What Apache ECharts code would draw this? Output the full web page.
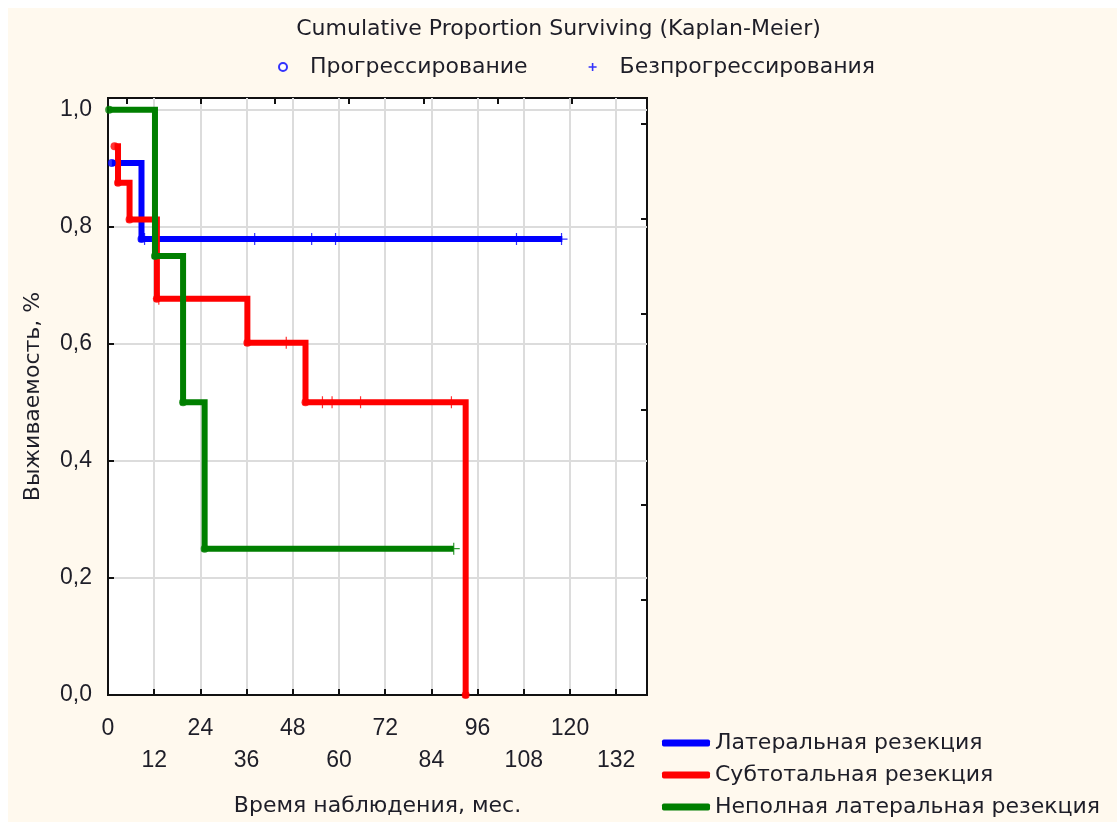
<!DOCTYPE html>
<html>
<head>
<meta charset="utf-8">
<script src="https://cdn.jsdelivr.net/npm/echarts@6/dist/echarts.min.js"></script>
<style>
  html, body { margin: 0; padding: 0; background: #fff; }
  #chart {
    width: 1117px; height: 822px;
    background: linear-gradient(#fff9ee, #fff9ee) 8px 8px / 100% 100% no-repeat, #fff;
  }
</style>
</head>
<body>
<div id="chart"></div>
<script>
// Kaplan-Meier survival curves: time (months) and cumulative proportion surviving
const xTickLabels = [0, 12, 24, 36, 48, 60, 72, 84, 96, 108, 120, 132];
const yTickLabels = [0, 0.2, 0.4, 0.6, 0.8, 1.0];

const groupNames = ['Латеральная резекция', 'Субтотальная резекция', 'Неполная латеральная резекция'];
const groupColors = ['#0000ff', '#ff0000', '#007f00'];

// step points: time of each change and the surviving proportion after it
const lateralTimes = [1.0, 8.7, 118.0];
const lateralSurv = [0.909, 0.779, 0.779];
const subtotalTimes = [1.7, 2.6, 5.6, 12.7, 36.2, 51.3, 92.9, 93.6];
const subtotalSurv = [0.9375, 0.875, 0.8125, 0.677, 0.602, 0.5, 0, 0];
const partialTimes = [0.3, 12.2, 19.5, 25.1, 89.8];
const partialSurv = [1.0, 0.75, 0.5, 0.25, 0.25];

// censored observations (no progression)
const lateralCensTimes = [9.5, 38.1, 52.9, 59.1, 106.1, 117.8];
const lateralCensSurv = [0.779, 0.779, 0.779, 0.779, 0.779, 0.779];
const subtotalCensTimes = [13.2, 46.3, 55.7, 58.2, 65.6, 89.2];
const subtotalCensSurv = [0.677, 0.602, 0.5, 0.5, 0.5, 0.5];
const partialCensTimes = [89.8];
const partialCensSurv = [0.25];

const steps = [
  [lateralTimes, lateralSurv],
  [subtotalTimes, subtotalSurv],
  [partialTimes, partialSurv]
];
const censored = [
  [lateralCensTimes, lateralCensSurv],
  [subtotalCensTimes, subtotalCensSurv],
  [partialCensTimes, partialCensSurv]
];

const zip = (a, b) => a.map((v, i) => [v, b[i]]);

const WORD_FONT = 'DejaVu Sans';
const NUM_FONT = 'Liberation Sans';
const TEXT_COLOR = '#1e1e28';

const plusPath = 'path://M4.5,0h1v4.5h4.5v1h-4.5v4.5h-1v-4.5h-4.5v-1h4.5z';
const plusIcon = 'path://M4,0h2v4h4v2h-4v4h-2v-4h-4v-2h4z';

// progression events: first point and every drop of a curve
const eventData = [];
steps.forEach(([t, s], g) => {
  t.forEach((time, i) => {
    if (i === 0 || s[i] < s[i - 1]) {
      eventData.push({ value: [time, s[i]], itemStyle: { color: groupColors[g] } });
    }
  });
});
const censData = [];
censored.forEach(([t, s], g) => {
  t.forEach((time, i) => {
    censData.push({ value: [time, s[i]], itemStyle: { color: groupColors[g] } });
  });
});

// decorative inner ticks of the opposite frame sides
const topTicks = [];
for (let i = 0; i < 7; i++) topTicks.push(4.8 + 19.28 * i);
const rightTicks = [];
for (let i = 1; i <= 6; i++) rightTicks.push(0.1627 * i);

const X_MAX = 140, Y_MAX = 1.02;

const lineSeries = groupNames.map((name, g) => ({
  name,
  type: 'line',
  step: 'end',
  data: zip(steps[g][0], steps[g][1]),
  symbol: 'none',
  lineStyle: { width: 6, color: groupColors[g], join: 'miter' },
  itemStyle: { color: groupColors[g] },
  z: 3,
  emphasis: { disabled: true }
}));

const chart = echarts.init(document.getElementById('chart'), null, { renderer: 'canvas' });
chart.setOption({
  animation: false,
  backgroundColor: 'transparent',
  title: {
    text: 'Cumulative Proportion Surviving (Kaplan-Meier)',
    left: 'center',
    top: 13,
    textStyle: { fontFamily: WORD_FONT, fontSize: 22, fontWeight: 'normal', color: TEXT_COLOR }
  },
  legend: [
    {
      data: [
        { name: 'Прогрессирование', icon: 'emptyCircle' },
        { name: 'Безпрогрессирования', icon: plusIcon }
      ],
      left: 278,
      top: 55,
      padding: 0,
      itemWidth: 44,
      itemHeight: 8,
      itemGap: 61,
      selectedMode: false,
      textStyle: { fontFamily: WORD_FONT, fontSize: 22, color: TEXT_COLOR, lineHeight: 24 }
    },
    {
      data: groupNames,
      orient: 'vertical',
      left: 662,
      top: 731,
      padding: 0,
      icon: 'roundRect',
      itemWidth: 48,
      itemHeight: 7,
      itemGap: 8,
      selectedMode: false,
      textStyle: { fontFamily: WORD_FONT, fontSize: 22, color: TEXT_COLOR, lineHeight: 24 }
    }
  ],
  grid: {
    left: 108, top: 98, right: 470, bottom: 119,
    show: true, backgroundColor: '#ffffff', borderColor: '#111', borderWidth: 2
  },
  xAxis: [
    {
      type: 'value', min: 0, max: X_MAX,
      name: 'Время наблюдения, мес.',
      nameLocation: 'middle', nameGap: 100,
      nameTextStyle: { fontFamily: WORD_FONT, fontSize: 22, color: TEXT_COLOR },
      axisLine: { show: true, onZero: false, lineStyle: { color: '#111', width: 2 } },
      axisTick: { show: true, inside: true, length: 6, customValues: xTickLabels, lineStyle: { color: '#111', width: 2 } },
      axisLabel: {
        customValues: xTickLabels,
        interval: 0,
        margin: 18,
        lineHeight: 32,
        fontFamily: NUM_FONT, fontSize: 23, color: TEXT_COLOR,
        formatter: v => (Math.round(v / 12) % 2 ? '\n' : '') + v
      },
      splitLine: { show: true, lineStyle: { color: '#dcdcdc', width: 2 } }
    },
    {
      type: 'value', min: 0, max: X_MAX, position: 'top',
      axisLine: { show: false, onZero: false },
      axisTick: { show: true, inside: true, length: 6, customValues: topTicks, lineStyle: { color: '#111', width: 2 } },
      axisLabel: { show: false },
      splitLine: { show: false }
    }
  ],
  yAxis: [
    {
      type: 'value', min: 0, max: Y_MAX,
      name: 'Выживаемость, %',
      nameLocation: 'middle', nameGap: 64, nameRotate: 90,
      nameTextStyle: { fontFamily: WORD_FONT, fontSize: 22, color: TEXT_COLOR },
      axisLine: { show: true, onZero: false, lineStyle: { color: '#111', width: 2 } },
      axisTick: { show: true, inside: true, length: 6, customValues: yTickLabels, lineStyle: { color: '#111', width: 2 } },
      axisLabel: {
        customValues: yTickLabels,
        margin: 16,
        fontFamily: NUM_FONT, fontSize: 23, color: TEXT_COLOR,
        formatter: v => v.toFixed(1).replace('.', ',')
      },
      splitLine: { show: true, lineStyle: { color: '#dcdcdc', width: 2 } }
    },
    {
      type: 'value', min: 0, max: Y_MAX, position: 'right',
      axisLine: { show: false, onZero: false },
      axisTick: { show: true, inside: true, length: 6, customValues: rightTicks, lineStyle: { color: '#111', width: 2 } },
      axisLabel: { show: false },
      splitLine: { show: false }
    }
  ],
  series: [
    ...lineSeries,
    {
      name: 'Прогрессирование',
      type: 'scatter',
      data: eventData,
      symbol: 'circle',
      symbolSize: 8,
      itemStyle: { color: '#0000ff' },
      z: 4,
      emphasis: { disabled: true }
    },
    {
      name: 'Безпрогрессирования',
      type: 'scatter',
      data: censData,
      symbol: plusPath,
      symbolSize: 12,
      itemStyle: { color: '#0000ff' },
      z: 4,
      emphasis: { disabled: true }
    }
  ]
});
</script>
</body>
</html>
